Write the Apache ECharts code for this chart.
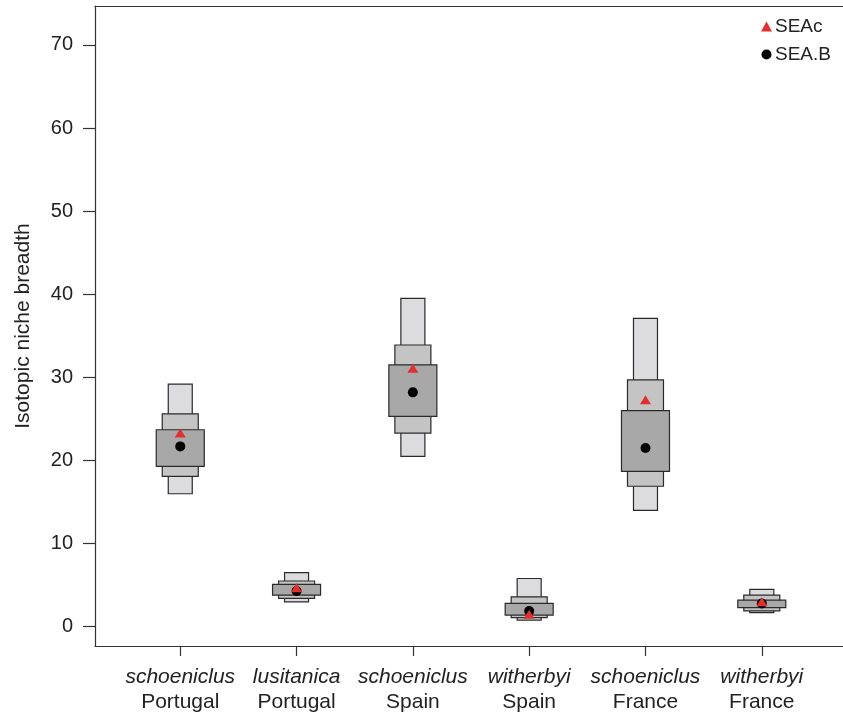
<!DOCTYPE html>
<html>
<head>
<meta charset="utf-8">
<script src="https://cdn.jsdelivr.net/npm/echarts@6/dist/echarts.min.js"></script>
<style>
  html, body { margin: 0; padding: 0; background: #fff; }
  #chart { width: 843px; height: 718px; }
</style>
</head>
<body>
<div id="chart"></div>
<script>
// Groups: species (italic) over country
const species = ['schoeniclus', 'lusitanica', 'schoeniclus', 'witherbyi', 'schoeniclus', 'witherbyi'];
const countries = ['Portugal', 'Portugal', 'Spain', 'Spain', 'France', 'France'];

// Credible intervals of the Bayesian standard ellipse area
const ci95Low  = [16.0, 3.0, 20.5, 0.8, 14.0, 1.7];
const ci95High = [29.2, 6.5, 39.5, 5.8, 37.1, 4.5];
const ci75Low  = [18.1, 3.4, 23.3, 1.1, 16.9, 1.9];
const ci75High = [25.6, 5.5, 33.9, 3.6, 29.7, 3.8];
const ci50Low  = [19.3, 3.8, 25.3, 1.4, 18.7, 2.3];
const ci50High = [23.7, 5.1, 31.5, 2.8, 26.0, 3.2];

// Point estimates
const seac = [23.3, 4.7, 31.1, 1.5, 27.3, 3.0];
const seab = [21.7, 4.3, 28.2, 1.9, 21.5, 2.8];

const yTicks = [0, 10, 20, 30, 40, 50, 60, 70];
const xTicks = [0, 1, 2, 3, 4, 5];

const FONT = '"Liberation Sans", Arial, Helvetica, sans-serif';
const INK = '#222';
const LINE = { color: '#333', width: 1.2 };

function intervalSeries(name, lows, highs, halfWidth, fill) {
  return {
    type: 'custom',
    name: name,
    silent: true,
    data: lows.map((lo, i) => [i, lo, highs[i]]),
    encode: { x: 0, y: [1, 2] },
    renderItem: function (params, api) {
      const top = api.coord([api.value(0), api.value(2)]);
      const bot = api.coord([api.value(0), api.value(1)]);
      return {
        type: 'rect',
        shape: { x: top[0] - halfWidth, y: top[1], width: halfWidth * 2, height: bot[1] - top[1] },
        style: { fill: fill, stroke: '#2a2a2a', lineWidth: 1.2 }
      };
    }
  };
}

const chart = echarts.init(document.getElementById('chart'), null, { renderer: 'canvas' });

chart.setOption({
  animation: false,
  backgroundColor: '#fff',
  grid: { left: 95, right: -3, top: 6, bottom: 72, show: false, containLabel: false, outerBoundsMode: 'none' },
  legend: {
    data: [
      { name: 'SEAc', icon: 'triangle' },
      { name: 'SEA.B', icon: 'circle' }
    ],
    orient: 'vertical',
    left: 756, top: 12,
    itemWidth: 11, itemHeight: 10,
    itemGap: 9,
    textStyle: { fontFamily: FONT, fontSize: 19, color: INK, padding: [0, 0, 0, -2] }
  },
  xAxis: [
    {
      type: 'value',
      min: -0.733, max: 5.724,
      splitLine: { show: false },
      axisLine: { show: true, onZero: false, lineStyle: LINE },
      axisTick: { show: true, customValues: xTicks, length: 10, lineStyle: LINE },
      axisLabel: {
        customValues: xTicks,
        margin: 19,
        formatter: function (v) {
          const i = Math.round(v);
          return '{sp|' + species[i] + '}\n{co|' + countries[i] + '}';
        },
        rich: {
          sp: { fontFamily: FONT, fontSize: 21, fontStyle: 'italic', color: INK, lineHeight: 25 },
          co: { fontFamily: FONT, fontSize: 21, color: INK, lineHeight: 25 }
        }
      }
    },
    {
      // top frame line
      type: 'value',
      position: 'top',
      min: -0.733, max: 5.724,
      splitLine: { show: false },
      axisLine: { show: true, onZero: false, lineStyle: LINE },
      axisTick: { show: false },
      axisLabel: { show: false }
    }
  ],
  yAxis: {
    type: 'value',
    min: -2.32, max: 74.69,
    name: 'Isotopic niche breadth',
    nameLocation: 'middle',
    nameGap: 61,
    nameTextStyle: { fontFamily: FONT, fontSize: 21, color: INK },
    splitLine: { show: false },
    axisLine: { show: true, onZero: false, lineStyle: LINE },
    axisTick: { show: true, customValues: yTicks, length: 12, lineStyle: LINE },
    axisLabel: { customValues: yTicks, margin: 22, fontFamily: FONT, fontSize: 20, color: INK }
  },
  series: [
    intervalSeries('95%', ci95Low, ci95High, 12, '#dcdcde'),
    intervalSeries('75%', ci75Low, ci75High, 18, '#c4c4c4'),
    intervalSeries('50%', ci50Low, ci50High, 24, '#a8a8a8'),
    {
      type: 'scatter',
      name: 'SEA.B',
      symbol: 'circle',
      symbolSize: 10,
      itemStyle: { color: '#000', opacity: 1 },
      data: seab.map((v, i) => [i, v]),
      z: 5
    },
    {
      type: 'scatter',
      name: 'SEAc',
      symbol: 'triangle',
      symbolSize: [11, 9],
      itemStyle: { color: '#e3302f', opacity: 1 },
      data: seac.map((v, i) => [i, v]),
      z: 6
    }
  ]
});
</script>
</body>
</html>
